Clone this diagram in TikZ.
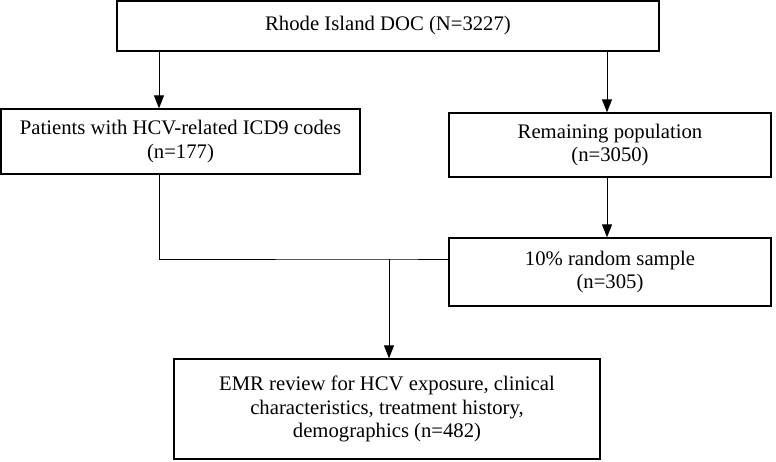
\documentclass[tikz,border=0pt]{standalone}
\usepackage{fontspec}
\setmainfont{Liberation Serif}
\usetikzlibrary{arrows.meta}
\tikzset{box/.style = {draw, line width=1.3pt, align=center, inner sep=0pt,
                       font=\fontsize{20.7}{23.8}\selectfont},
         link/.style = {line width=1pt},
         flow/.style = {link, -{Triangle[length=13pt, width=10pt]}}}

\begin{document}
\begin{tikzpicture}[x=1pt, y=-1pt]
    \useasboundingbox (0, 0) rectangle (776, 461);

    \node [box, minimum width=542, minimum height=50] (doc) at (388, 26) {Rhode Island DOC (N=3227)};
    \node [box, minimum width=359, minimum height=65] (hcv) at (180.5, 141.5) {Patients with HCV-related ICD9 codes\\(n=177)};
    \node [box, minimum width=322, minimum height=64] (rest) at (610, 145) {Remaining population\\(n=3050)};
    \node [box, minimum width=322, minimum height=68] (sample) at (610, 272) {10\% random sample\\(n=305)};
    \node [box, minimum width=426, minimum height=100] (emr) at (387, 409) {EMR review for HCV exposure, clinical\\characteristics, treatment history,\\demographics (n=482)};

    \coordinate (left) at (159, 0);
    \coordinate (right) at (607, 0);
    \coordinate (join) at (389, 259);

    \draw [flow] (left |- doc.south) -- (left |- hcv.north);
    \draw [flow] (right |- doc.south) -- (right |- rest.north);
    \draw [flow] (right |- rest.south) -- (right |- sample.north);
    \draw [link] (left |- hcv.south) |- (join) -- (join -| sample.west);
    \draw [flow] (join) -- (join |- emr.north);
  \end{tikzpicture}
\end{document}
